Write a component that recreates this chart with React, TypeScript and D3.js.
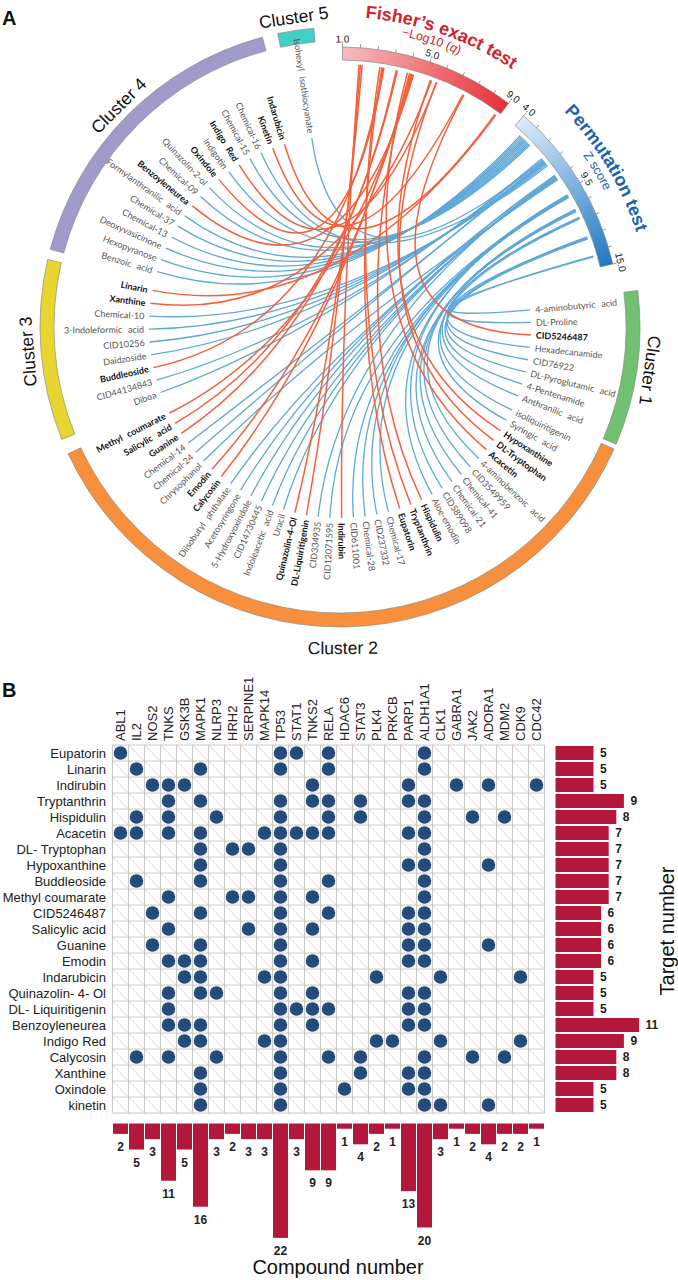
import React from 'react';
import * as d3 from 'd3';

// ---------------- Panel A data ----------------
const clusterNames = ['Cluster 1', 'Cluster 2', 'Cluster 3', 'Cluster 4', 'Cluster 5'];
const clusterColors = ['#72c172', '#f78f3c', '#e8d530', '#9f9bcb', '#40d0c8'];

const cluster1Compounds = ['4-aminobutyric acid', 'DL-Proline', 'CID5246487', 'Hexadecanamide', 'CID76922', 'DL-Pyroglutamic acid', '4-Pentenamide', 'Anthranilic acid'];
const cluster1Scores = [14.24, 14.2, 7.05, 12.9, 12.95, 13.0, 12.85, 11.5];

const cluster2Compounds = ['isoliquiritigenin', 'Syringic acid', 'Hypoxanthine', 'DL-Tryptophan', 'Acacetin', '4-aminobenzoic acid', 'CID3549959', 'Chemical-41', 'Chemical-21', 'CID589098', 'Aloe-emodin', 'Hispidulin', 'Tryptanthrin', 'Eupatorin', 'Chemical-17', 'CID237332', 'Chemical-28', 'CID611001', 'Indirubin', 'CID12071595', 'CID334935', 'DL-Liquiritigenin', 'Quinazolin-4-Ol', 'Uracil', 'Indoleacetic acid', 'CID14730445', '5-Hydroxyoxindole', 'Acetosyringone', 'Diisobutyl phthalate', 'Calycosin', 'Emodin', 'Chrysophanol', 'Chemical-24', 'Chemical-14', 'Guanine', 'Salicylic acid', 'Methyl coumarate'];
const cluster2Scores = [11.45, 11.55, 5.3, 5.6, 4.15, 10.9, 10.95, 10.85, 11.0, 9.8, 9.85, 4.25, 2.8, 2.9, 9.9, 9.75, 9.95, 9.88, 1.8, 9.82, 8.3, 1.87, 1.95, 8.35, 8.4, 8.45, 8.2, 8.25, 8.5, 4.3, 4.35, 8.55, 7.0, 7.1, 3.6, 3.65, 4.4];

const cluster3Compounds = ['Diboa', 'CID44134843', 'Buddleoside', 'Daidzoside', 'CID10256', '3-Indoleformic acid', 'Chemical-10', 'Xanthine', 'Linarin'];
const cluster3Scores = [6.8, 6.9, 2.95, 7.05, 7.15, 7.2, 7.3, 5.35, 8.85];

const cluster4Compounds = ['Benzoic acid', 'Hexopyranose', 'Deoxyvasicinone', 'Chemical-13', 'Chemical-37', 'Formylanthranilic acid', 'Benzoyleneurea', 'Chemical-09', 'Quinazolin-2-ol', 'Oxindole', 'Indigotin', 'Indigo Red', 'Chemical-15', 'Chemical-16', 'Kinetin', 'Indarubicin'];
const cluster4Scores = [4.7, 4.8, 4.9, 5.0, 5.1, 5.2, 4.45, 5.3, 5.4, 3.0, 5.5, 5.62, 5.6, 7.4, 7.0, 8.8];

const cluster5Compounds = ['Isohexyl isothiocyanate'];
const cluster5Scores = [6.9];

// compounds linked to the Fisher's exact test scale (bold labels, red links)
const fisherCompounds = ['CID5246487', 'Hypoxanthine', 'DL-Tryptophan', 'Acacetin', 'Hispidulin', 'Tryptanthrin', 'Eupatorin', 'Indirubin', 'DL-Liquiritigenin', 'Quinazolin-4-Ol', 'Calycosin', 'Emodin', 'Guanine', 'Salicylic acid', 'Methyl coumarate', 'Buddleoside', 'Xanthine', 'Linarin', 'Benzoyleneurea', 'Oxindole', 'Indigo Red', 'Kinetin', 'Indarubicin'];

const fisherDomain = [1, 9];
const fisherTickLabels = [1.0, 5.0, 9.0];
const permDomain = [4, 15];
const permTickLabels = [4.0, 9.5, 15.0];

// ---------------- Panel B data ----------------
const targets = ['ABL1', 'IL2', 'NOS2', 'TNKS', 'GSK3B', 'MAPK1', 'NLRP3', 'HRH2', 'SERPINE1', 'MAPK14', 'TP53', 'STAT1', 'TNKS2', 'RELA', 'HDAC6', 'STAT3', 'PLK4', 'PRKCB', 'PARP1', 'ALDH1A1', 'CLK1', 'GABRA1', 'JAK2', 'ADORA1', 'MDM2', 'CDK9', 'CDC42'];
const rowCompounds = ['Eupatorin', 'Linarin', 'Indirubin', 'Tryptanthrin', 'Hispidulin', 'Acacetin', 'DL- Tryptophan', 'Hypoxanthine', 'Buddleoside', 'Methyl coumarate', 'CID5246487', 'Salicylic acid', 'Guanine', 'Emodin', 'Indarubicin', 'Quinazolin- 4- Ol', 'DL- Liquiritigenin', 'Benzoyleneurea', 'Indigo Red', 'Calycosin', 'Xanthine', 'Oxindole', 'kinetin'];
const targetNumber = [5, 5, 5, 9, 8, 7, 7, 7, 7, 7, 6, 6, 6, 6, 5, 5, 5, 11, 9, 8, 8, 5, 5];
const compoundNumber = [2, 5, 3, 11, 5, 16, 3, 2, 3, 3, 22, 3, 9, 9, 1, 4, 2, 1, 13, 20, 3, 1, 2, 4, 2, 2, 1];
const rowTargets: string[][] = [
  ['ABL1', 'TP53', 'STAT1', 'RELA', 'ALDH1A1'],
  ['IL2', 'MAPK1', 'TP53', 'RELA', 'ALDH1A1'],
  ['NOS2', 'TNKS', 'GSK3B', 'TNKS2', 'PARP1', 'GABRA1', 'ADORA1', 'CDC42'],
  ['TNKS', 'MAPK1', 'TP53', 'TNKS2', 'RELA', 'STAT3', 'PARP1', 'ALDH1A1'],
  ['IL2', 'TNKS', 'NLRP3', 'TP53', 'RELA', 'STAT3', 'ALDH1A1', 'JAK2', 'MDM2'],
  ['ABL1', 'IL2', 'TNKS', 'MAPK1', 'MAPK14', 'TP53', 'STAT1', 'TNKS2', 'RELA', 'PARP1', 'ALDH1A1'],
  ['MAPK1', 'HRH2', 'SERPINE1', 'TP53', 'ALDH1A1'],
  ['MAPK1', 'TP53', 'PARP1', 'ALDH1A1', 'ADORA1'],
  ['IL2', 'MAPK1', 'TP53', 'RELA', 'ALDH1A1'],
  ['TNKS', 'HRH2', 'SERPINE1', 'TP53', 'TNKS2', 'ALDH1A1'],
  ['NOS2', 'MAPK1', 'TP53', 'RELA', 'PARP1', 'ALDH1A1'],
  ['TNKS', 'SERPINE1', 'TP53', 'TNKS2', 'PARP1', 'ALDH1A1'],
  ['NOS2', 'MAPK1', 'TP53', 'PARP1', 'ALDH1A1', 'ADORA1'],
  ['TNKS', 'GSK3B', 'MAPK1', 'TP53', 'TNKS2', 'PARP1', 'ALDH1A1'],
  ['GSK3B', 'MAPK1', 'MAPK14', 'TP53', 'PLK4', 'CLK1', 'CDK9'],
  ['TNKS', 'MAPK1', 'NLRP3', 'TP53', 'TNKS2', 'PARP1', 'ALDH1A1'],
  ['TNKS', 'TP53', 'STAT1', 'TNKS2', 'RELA', 'PARP1', 'ALDH1A1'],
  ['TNKS', 'GSK3B', 'MAPK1', 'TP53', 'TNKS2', 'PARP1', 'ALDH1A1'],
  ['GSK3B', 'MAPK1', 'MAPK14', 'TP53', 'PLK4', 'PRKCB', 'CLK1', 'CDK9'],
  ['IL2', 'TNKS', 'NLRP3', 'TP53', 'RELA', 'STAT3', 'ALDH1A1', 'JAK2', 'MDM2'],
  ['MAPK1', 'TP53', 'STAT3', 'PARP1', 'ALDH1A1'],
  ['MAPK1', 'TP53', 'HDAC6', 'PARP1', 'ALDH1A1'],
  ['MAPK1', 'TP53', 'ALDH1A1', 'CLK1', 'ADORA1'],
];

// ---------------- layout ----------------
const W = 678;
const H = 1280;
const CX = 340;
const CY = 327;
const clusterSpans: [number, number][] = [[83, 113], [114, 245], [248, 283], [285, 345], [348, 355]];
const fisherSpan = [0.5, 37];
const permSpan = [41, 77];
const R_CL_IN = 286, R_CL_OUT = 300;
const R_SC_IN = 267, R_SC_OUT = 280;
const R_LINK_C = 191, R_LINK_S = 263, R_LABEL = 196;

const deg = Math.PI / 180;
const pt = (a: number, r: number): [number, number] => [r * Math.sin(a * deg), -r * Math.cos(a * deg)];

const arcPath = (r: number, a0: number, a1: number) => {
  const p = d3.path();
  const [x, y] = pt(a0, r);
  p.moveTo(x, y);
  p.arc(0, 0, r, (a0 - 90) * deg, (a1 - 90) * deg, false);
  return p.toString();
};

function ChordPanel() {
  const clusters = [
    [cluster1Compounds, cluster1Scores],
    [cluster2Compounds, cluster2Scores],
    [cluster3Compounds, cluster3Scores],
    [cluster4Compounds, cluster4Scores],
    [cluster5Compounds, cluster5Scores],
  ] as [string[], number[]][];

  const fisherScale = d3.scaleLinear().domain(fisherDomain).range(fisherSpan);
  const permScale = d3.scaleLinear().domain(permDomain).range(permSpan);

  const nodes: { name: string; angle: number; key: boolean; score: number }[] = [];
  clusters.forEach(([names, scores], ci) => {
    const band = d3.scaleBand<string>().domain(names).range(clusterSpans[ci]);
    names.forEach((n, i) => {
      nodes.push({ name: n, angle: (band(n) as number) + band.bandwidth() / 2, key: fisherCompounds.includes(n), score: scores[i] });
    });
  });

  const arcGen = d3.arc<any>();
  const linkPath = (nd: { angle: number; key: boolean; score: number }) => {
    const a2 = nd.key ? fisherScale(nd.score) : permScale(nd.score);
    const [x1, y1] = pt(nd.angle, R_LINK_C);
    const [x2, y2] = pt(a2, R_LINK_S);
    const p = d3.path();
    p.moveTo(x1, y1);
    p.quadraticCurveTo(0, 0, x2, y2);
    return p.toString();
  };

  const fTicks = d3.range(11).map((i) => fisherDomain[0] + (i * (fisherDomain[1] - fisherDomain[0])) / 10);
  const pTicks = d3.range(11).map((i) => permDomain[0] + (i * (permDomain[1] - permDomain[0])) / 10);
  const fg0 = pt(fisherSpan[0], 273), fg1 = pt(fisherSpan[1], 273);
  const pg0 = pt(permSpan[0], 273), pg1 = pt(permSpan[1], 273);

  return (
    <g transform={`translate(${CX},${CY})`}>
      <defs>
        <linearGradient id="fgrad" gradientUnits="userSpaceOnUse" x1={fg0[0]} y1={fg0[1]} x2={fg1[0]} y2={fg1[1]}>
          <stop offset="0" stopColor="#f6bcbc" />
          <stop offset="1" stopColor="#e8303a" />
        </linearGradient>
        <linearGradient id="pgrad" gradientUnits="userSpaceOnUse" x1={pg0[0]} y1={pg0[1]} x2={pg1[0]} y2={pg1[1]}>
          <stop offset="0" stopColor="#dcebf9" />
          <stop offset="1" stopColor="#1f78c3" />
        </linearGradient>
        <path id="fTitle" d={arcPath(310, 0, 40)} />
        <path id="fSub" d={arcPath(297.5, 5, 30)} />
        <path id="pTitle" d={arcPath(311, 40, 80)} />
        <path id="pSub" d={arcPath(297.5, 45, 72)} />
      </defs>

      {/* cluster arcs */}
      {clusterSpans.map((s, i) => (
        <path key={i} d={arcGen({ innerRadius: R_CL_IN, outerRadius: R_CL_OUT, startAngle: s[0] * deg, endAngle: s[1] * deg }) as string}
          fill={clusterColors[i]} stroke="#7d7d7d" strokeWidth={0.6} />
      ))}
      {clusterSpans.map((s, i) => {
        const am = (s[0] + s[1]) / 2;
        const flip = am > 100 && am < 260;
        const [x, y] = pt(am, flip ? 321 : 313);
        return (
          <text key={i} transform={`translate(${x},${y}) rotate(${flip ? am - 180 : am})`} textAnchor="middle"
            dominantBaseline="central" fontSize={17.5} fill="#111">{clusterNames[i]}</text>
        );
      })}

      {/* scale arcs */}
      <path d={arcGen({ innerRadius: R_SC_IN, outerRadius: R_SC_OUT, startAngle: fisherSpan[0] * deg, endAngle: fisherSpan[1] * deg }) as string}
        fill="url(#fgrad)" stroke="#8a8a8a" strokeWidth={0.7} />
      <path d={arcGen({ innerRadius: R_SC_IN, outerRadius: R_SC_OUT, startAngle: permSpan[0] * deg, endAngle: permSpan[1] * deg }) as string}
        fill="url(#pgrad)" stroke="#8a8a8a" strokeWidth={0.7} />
      {fTicks.map((t, i) => {
        const a = fisherScale(t);
        const [x1, y1] = pt(a, R_SC_OUT);
        const [x2, y2] = pt(a, R_SC_OUT + 3.5);
        return <line key={'ft' + i} x1={x1} y1={y1} x2={x2} y2={y2} stroke="#777" strokeWidth={0.8} />;
      })}
      {pTicks.map((t, i) => {
        const a = permScale(t);
        const [x1, y1] = pt(a, R_SC_OUT);
        const [x2, y2] = pt(a, R_SC_OUT + 3.5);
        return <line key={'pt' + i} x1={x1} y1={y1} x2={x2} y2={y2} stroke="#777" strokeWidth={0.8} />;
      })}
      {fisherTickLabels.map((t, i) => {
        const a = fisherScale(t);
        const [x, y] = pt(a, 288);
        return <text key={'fl' + i} transform={`translate(${x},${y}) rotate(${a})`} textAnchor="middle" dominantBaseline="central" fontSize={10} fill="#222">{t.toFixed(1)}</text>;
      })}
      {permTickLabels.map((t, i) => {
        const a = permScale(t);
        const [x, y] = pt(a, 288);
        return <text key={'pl' + i} transform={`translate(${x},${y}) rotate(${a})`} textAnchor="middle" dominantBaseline="central" fontSize={10} fill="#222">{t.toFixed(1)}</text>;
      })}

      {/* titles */}
      <text fontSize={18} fontWeight={700} fill="#d2232a">
        <textPath href="#fTitle" startOffset="48%" textAnchor="middle">Fisher’s exact test</textPath>
      </text>
      <text fontSize={12.5} fill="#d2232a">
        <textPath href="#fSub" startOffset="51%" textAnchor="middle">−Log10 (<tspan fontStyle="italic">q</tspan>)</textPath>
      </text>
      <text fontSize={18} fontWeight={700} fill="#1a62ad">
        <textPath href="#pTitle" startOffset="48%" textAnchor="middle">Permutation test</textPath>
      </text>
      <text fontSize={12.5} fill="#1a62ad">
        <textPath href="#pSub" startOffset="51%" textAnchor="middle">Z score</textPath>
      </text>

      {/* links */}
      {nodes.filter((n) => !n.key).map((n, i) => (
        <path key={'bl' + i} d={linkPath(n)} fill="none" stroke="#5ea8d8" strokeWidth={1.3} />
      ))}
      {nodes.filter((n) => n.key).map((n, i) => (
        <path key={'rl' + i} d={linkPath(n)} fill="none" stroke="#f4603b" strokeWidth={1.5} />
      ))}

      {/* compound labels */}
      {nodes.map((n, i) => {
        const flip = n.angle > 180;
        return (
          <text key={'lab' + i} transform={`rotate(${n.angle - 90}) translate(${R_LABEL},0)${flip ? ' rotate(180)' : ''}`}
            textAnchor={flip ? 'end' : 'start'} dominantBaseline="central" fontFamily="Lato, 'Open Sans', sans-serif"
            fontSize={9} fontWeight={n.key ? 700 : 400} fill={n.key ? '#111' : '#555'} style={{ wordSpacing: '3.5px' }}>
            {n.name}
          </text>
        );
      })}
    </g>
  );
}

function MatrixPanel() {
  const gx0 = 112.5, cw = 16, gy0 = 745, ch = 16;
  const x = d3.scaleBand<string>().domain(targets).range([gx0, gx0 + cw * targets.length]);
  const y = d3.scaleBand<string>().domain(rowCompounds).range([gy0, gy0 + ch * rowCompounds.length]);
  const gx1 = gx0 + cw * targets.length;
  const gy1 = gy0 + ch * rowCompounds.length;
  const xR = d3.scaleLinear().domain([0, 11]).range([gx1 + 11, gx1 + 11 + 11 * 7.6]);
  const yB = d3.scaleLinear().domain([0, 22]).range([gy1 + 10.5, gy1 + 10.5 + 22 * 5.2]);

  return (
    <g>
      {/* cells */}
      {rowCompounds.map((r) =>
        targets.map((t) => (
          <line key={r + t + 'd'} x1={x(t)} y1={y(r)} x2={(x(t) as number) + cw} y2={(y(r) as number) + ch} stroke="#e4c3ca" strokeWidth={0.9} />
        ))
      )}
      {d3.range(targets.length + 1).map((i) => (
        <line key={'vx' + i} x1={gx0 + i * cw} x2={gx0 + i * cw} y1={gy0} y2={gy1} stroke="#c8c8c8" strokeWidth={1} />
      ))}
      {d3.range(rowCompounds.length + 1).map((i) => (
        <line key={'hy' + i} x1={gx0} x2={gx1} y1={gy0 + i * ch} y2={gy0 + i * ch} stroke="#c8c8c8" strokeWidth={1} />
      ))}
      {/* dots */}
      {rowTargets.map((ts, ri) =>
        ts.map((t) => (
          <circle key={ri + t} cx={(x(t) as number) + cw / 2} cy={(y(rowCompounds[ri]) as number) + ch / 2} r={6.8} fill="#244a7b" />
        ))
      )}
      {/* column headers */}
      {targets.map((t) => (
        <text key={'h' + t} transform={`translate(${(x(t) as number) + cw / 2 + 4.6},741) rotate(-90)`} fontSize={13} fill="#222">{t}</text>
      ))}
      {/* row labels */}
      {rowCompounds.map((r) => (
        <text key={'r' + r} x={106} y={(y(r) as number) + ch / 2} textAnchor="end" dominantBaseline="central" fontSize={13} fill="#222">{r}</text>
      ))}
      {/* right bars */}
      {rowCompounds.map((r, i) => (
        <g key={'rb' + r}>
          <rect x={xR(0)} y={(y(r) as number) + 1} width={xR(targetNumber[i]) - xR(0)} height={ch - 2} fill="#b3173a" />
          <text x={xR(targetNumber[i]) + 6.5} y={(y(r) as number) + ch / 2} dominantBaseline="central" fontSize={12} fontWeight={700} fill="#222">{targetNumber[i]}</text>
        </g>
      ))}
      {/* bottom bars */}
      {targets.map((t, i) => (
        <g key={'bb' + t}>
          <rect x={(x(t) as number) + 0.5} y={yB(0)} width={cw - 1} height={yB(compoundNumber[i]) - yB(0)} fill="#b3173a" />
          <text x={(x(t) as number) + cw / 2} y={yB(compoundNumber[i]) + 13} textAnchor="middle" dominantBaseline="central" fontSize={12} fontWeight={700} fill="#222">{compoundNumber[i]}</text>
        </g>
      ))}
      <text x={338} y={1274} textAnchor="middle" fontSize={20} fill="#111">Compound number</text>
      <text transform="translate(674,931) rotate(-90)" textAnchor="middle" fontSize={20} fill="#111">Target number</text>
    </g>
  );
}

export default function App() {
  return (
    <svg width={W} height={H} style={{ position: 'absolute', left: 0, top: 0, background: '#fff' }}
      fontFamily="Arial, 'Liberation Sans', sans-serif">
      <rect width={W} height={H} fill="#fff" />
      <text x={2} y={25} fontSize={20} fontWeight={700} fill="#111">A</text>
      <text x={2} y={697} fontSize={20} fontWeight={700} fill="#111">B</text>
      <ChordPanel />
      <MatrixPanel />
    </svg>
  );
}
